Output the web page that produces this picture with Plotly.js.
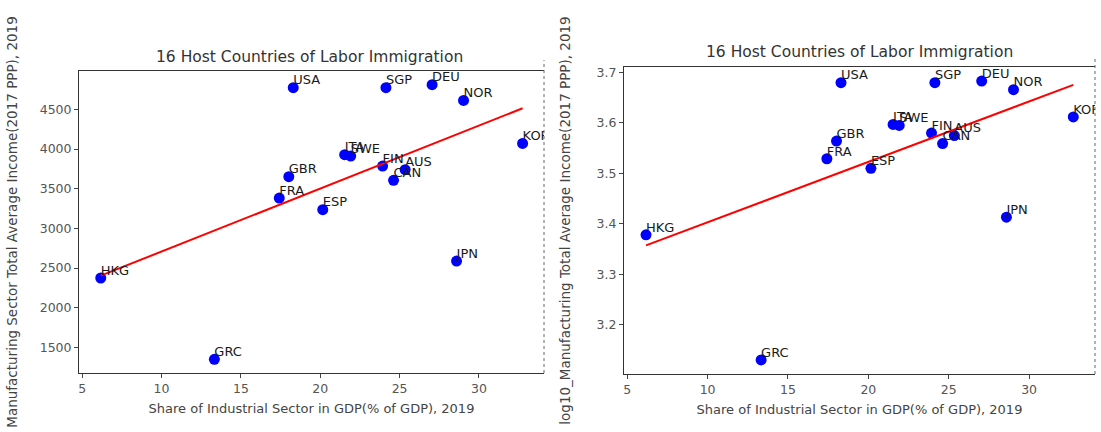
<!DOCTYPE html>
<html><head><meta charset="utf-8">
<script src="https://cdn.plot.ly/plotly-3.0.1.min.js"></script>
<style>html,body{margin:0;padding:0;background:#fff}#chart{width:1101px;height:432px}</style>
</head><body><div id="chart"></div>
<script>
// ---- data ----
const countries = ['USA','SGP','DEU','NOR','KOR','ITA','SWE','GBR','FIN','AUS','CAN','FRA','ESP','HKG','JPN','GRC'];
const industryShare = [18.3,24.14,27.05,29.03,32.75,21.54,21.92,18.02,23.93,25.35,24.62,17.42,20.16,6.17,28.59,13.33];
const income = [4773,4773,4811,4613,4071,3929,3911,3652,3785,3740,3605,3382,3236,2374,2588,1349];
const logIncome = [3.680,3.680,3.683,3.666,3.612,3.597,3.595,3.564,3.580,3.575,3.559,3.529,3.510,3.378,3.413,3.130];
const chartTitle = '16 Host Countries of Labor Immigration';
const xTitle = 'Share of Industrial Sector in GDP(% of GDP), 2019';
const yTitleLeft = 'Manufacturing Sector Total Average Income(2017 PPP), 2019';
const yTitleRight = 'log10_Manufacturing Total Average Income(2017 PPP), 2019';

// least-squares fit line (like np.polyfit deg 1)
function fitLine(xs, ys) {
  const n = xs.length;
  const mx = xs.reduce((a,b)=>a+b,0)/n, my = ys.reduce((a,b)=>a+b,0)/n;
  let sxy = 0, sxx = 0;
  for (let i=0;i<n;i++){ sxy += (xs[i]-mx)*(ys[i]-my); sxx += (xs[i]-mx)**2; }
  const b = sxy/sxx, a = my - b*mx;
  const x0 = Math.min(...xs), x1 = Math.max(...xs);
  return {x:[x0,x1], y:[a+b*x0, a+b*x1]};
}
const fitL = fitLine(industryShare, income);
const fitR = fitLine(industryShare, logIncome);

const W = 1101, H = 432;
const px = v => v/W, py = v => (H - v)/H;

const markerStyle = {color:'#0000ff', size:11};
const labelFont = {family:'DejaVu Sans', size:13, color:'#1a1a1a'};
function panel(ys, fit, xa, ya) {
  return [
    {x:industryShare, y:ys, mode:'markers', type:'scatter', marker:markerStyle, xaxis:xa, yaxis:ya, hoverinfo:'skip', cliponaxis:false},
    {x:fit.x, y:fit.y, mode:'lines', type:'scatter', line:{color:'#ff0000', width:2}, xaxis:xa, yaxis:ya, hoverinfo:'skip'},
    {x:industryShare, y:ys, mode:'text', type:'scatter', text:countries, textposition:'top right', textfont:labelFont, xaxis:xa, yaxis:ya, cliponaxis:true, hoverinfo:'skip'}
  ];
}
const data = [...panel(income, fitL, 'x', 'y'), ...panel(logIncome, fitR, 'x2', 'y2')];

const tickFont = {family:'DejaVu Sans', size:12.5, color:'#555'};
const titleFont = {family:'DejaVu Sans', size:13, color:'#444'};
const yTitleFont = {family:'DejaVu Sans', size:13.5, color:'#444'};
const axBase = {showgrid:false, zeroline:false, showline:true, linecolor:'#333', linewidth:1,
  ticks:'outside', ticklen:4, tickcolor:'#444', tickwidth:1, tickfont:tickFont};

const layout = {
  width:W, height:H, margin:{l:0,r:0,t:0,b:0}, showlegend:false,
  paper_bgcolor:'#fff', plot_bgcolor:'#fff',
  xaxis:Object.assign({}, axBase, {domain:[px(79), px(544)], range:[4.8,34.1], dtick:5, tick0:5, mirror:true, anchor:'y',
    title:{text:xTitle, font:titleFont, standoff:8}}),
  yaxis:Object.assign({}, axBase, {domain:[py(373), py(71)], range:[1176,4984], dtick:500, tick0:1500, anchor:'x',
    title:{text:yTitleLeft, font:yTitleFont, standoff:18}}),
  xaxis2:Object.assign({}, axBase, {domain:[px(624), px(1095)], range:[4.8,34.1], dtick:5, tick0:5, mirror:true, anchor:'y2',
    title:{text:xTitle, font:titleFont, standoff:8}}),
  yaxis2:Object.assign({}, axBase, {domain:[py(374), py(67)], range:[3.102,3.711], dtick:0.1, tick0:3.2, tickformat:'.1f', anchor:'x2',
    title:{text:yTitleRight, font:yTitleFont, standoff:22}}),
  annotations:[
    {xref:'paper', yref:'paper', x:px(309), y:py(57), text:chartTitle, showarrow:false, xanchor:'center', yanchor:'middle',
      font:{family:'DejaVu Sans', size:15.5, color:'#333'}},
    {xref:'paper', yref:'paper', x:px(859), y:py(52), text:chartTitle, showarrow:false, xanchor:'center', yanchor:'middle',
      font:{family:'DejaVu Sans', size:15.5, color:'#333'}}
  ],
  shapes:[
    {type:'line', xref:'paper', yref:'paper', x0:px(544), x1:px(544), y0:py(373), y1:py(60), line:{color:'#666', width:1, dash:'dot'}},
    {type:'line', xref:'paper', yref:'paper', x0:px(1095), x1:px(1095), y0:py(374), y1:py(58), line:{color:'#666', width:1, dash:'dot'}}
  ]
};
Plotly.newPlot('chart', data, layout, {displayModeBar:false, staticPlot:true});
</script></body></html>
